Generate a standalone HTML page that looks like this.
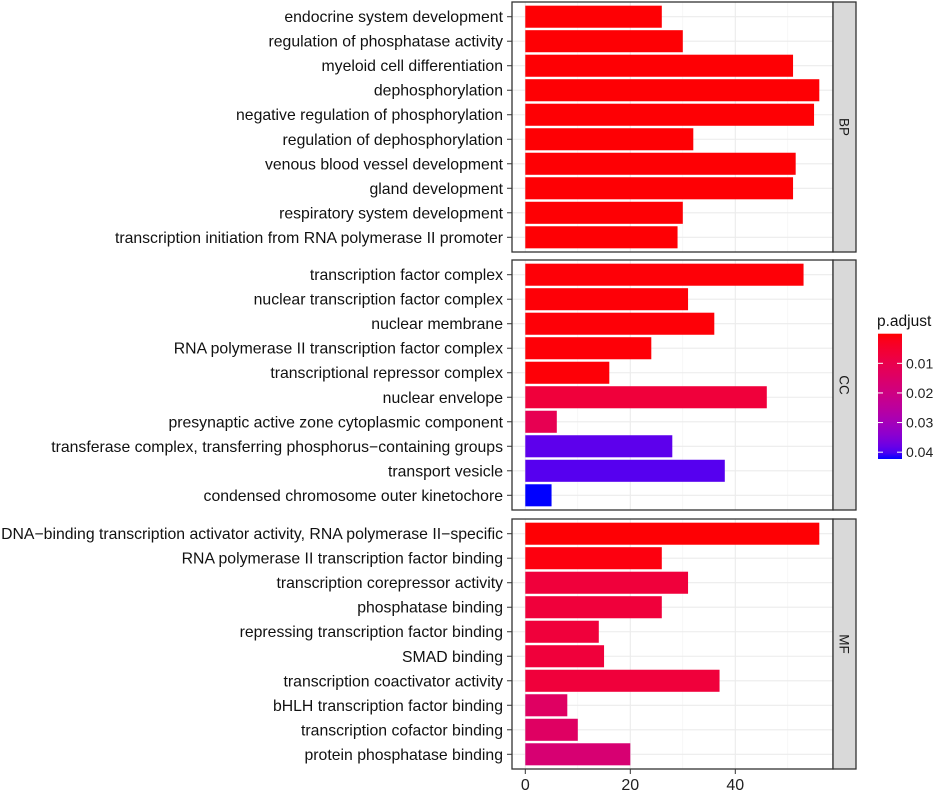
<!DOCTYPE html>
<html><head><meta charset="utf-8"><style>
html,body{margin:0;padding:0;background:#fff;}
svg{display:block;font-family:"Liberation Sans",Arial,sans-serif;}
</style></head><body>
<svg id="chart" width="933" height="791" viewBox="0 0 933 791" xmlns="http://www.w3.org/2000/svg"></svg>
<script>
const bpTerms = ["endocrine system development","regulation of phosphatase activity","myeloid cell differentiation","dephosphorylation","negative regulation of phosphorylation","regulation of dephosphorylation","venous blood vessel development","gland development","respiratory system development","transcription initiation from RNA polymerase II promoter"];
const bpCounts = [26,30,51,56,55,32,51.5,51,30,29];
const bpPadj = [0.0003,0.0003,0.0003,0.0003,0.0003,0.0003,0.0003,0.0003,0.0003,0.0003];
const ccTerms = ["transcription factor complex","nuclear transcription factor complex","nuclear membrane","RNA polymerase II transcription factor complex","transcriptional repressor complex","nuclear envelope","presynaptic active zone cytoplasmic component","transferase complex, transferring phosphorus\u2212containing groups","transport vesicle","condensed chromosome outer kinetochore"];
const ccCounts = [53,31,36,24,16,46,6,28,38,5];
const ccPadj = [0.0005,0.0005,0.0005,0.0005,0.0005,0.007,0.011,0.039,0.0395,0.0423];
const mfTerms = ["DNA\u2212binding transcription activator activity, RNA polymerase II\u2212specific","RNA polymerase II transcription factor binding","transcription corepressor activity","phosphatase binding","repressing transcription factor binding","SMAD binding","transcription coactivator activity","bHLH transcription factor binding","transcription cofactor binding","protein phosphatase binding"];
const mfCounts = [56,26,31,26,14,15,37,8,10,20];
const mfPadj = [0.0003,0.001,0.007,0.007,0.007,0.007,0.007,0.014,0.014,0.017];
const xTicks = [0,20,40];
const legendTicks = [0.01,0.02,0.03,0.04];
const panelNames = ["BP","CC","MF"];

const NS="http://www.w3.org/2000/svg";
const svg=document.getElementById('chart');
function mk(tag,attrs,parent){const e=document.createElementNS(NS,tag);for(const k in attrs)e.setAttribute(k,attrs[k]);(parent||svg).appendChild(e);return e;}
const X0=525.3, PX=5.25;
const xs=v=>X0+v*PX;
const pMin=0.0, pMax=0.0423;
function srgb2lin(c){c/=255;return c<=0.04045?c/12.92:Math.pow((c+0.055)/1.055,2.4);}
function lin2srgb(c){c=c<=0.0031308?12.92*c:1.055*Math.pow(c,1/2.4)-0.055;return Math.round(Math.max(0,Math.min(1,c))*255);}
function toLab(r,g,b){r=srgb2lin(r);g=srgb2lin(g);b=srgb2lin(b);let x=(r*0.4124+g*0.3576+b*0.1805)/0.95047,y=r*0.2126+g*0.7152+b*0.0722,z=(r*0.0193+g*0.1192+b*0.9505)/1.08883;const f=t=>t>0.008856?Math.cbrt(t):7.787*t+16/116;return [116*f(y)-16,500*(f(x)-f(y)),200*(f(y)-f(z))];}
function fromLab(L,a,bb){let fy=(L+16)/116,fx=fy+a/500,fz=fy-bb/200;const fi=t=>t*t*t>0.008856?t*t*t:(t-16/116)/7.787;let x=fi(fx)*0.95047,y=fi(fy),z=fi(fz)*1.08883;let r=x*3.2406-y*1.5372-z*0.4986,g=-x*0.9689+y*1.8758+z*0.0415,b=x*0.0557-y*0.2040+z*1.0570;return `rgb(${lin2srgb(r)},${lin2srgb(g)},${lin2srgb(b)})`;}
const LR=toLab(255,0,0), LB=toLab(0,0,255);
function col(p){let t=(p-pMin)/(pMax-pMin);t=Math.max(0,Math.min(1,t));return fromLab(LR[0]+(LB[0]-LR[0])*t,LR[1]+(LB[1]-LR[1])*t,LR[2]+(LB[2]-LR[2])*t);}

const panels=[{terms:bpTerms,counts:bpCounts,padj:bpPadj,top:2,bot:252},{terms:ccTerms,counts:ccCounts,padj:ccPadj,top:260,bot:510},{terms:mfTerms,counts:mfCounts,padj:mfPadj,top:519,bot:769}];
const PL=512, PR=833, SR=856;
panels.forEach((p,pi)=>{
  const g=mk('g',{});
  
  
  const n=p.terms.length, step=(p.bot-p.top)/(n-1+1.2);
  const ys=i=>p.top+step*(0.6+i);
  mk('rect',{x:PL,y:p.top,width:PR-PL,height:p.bot-p.top,fill:'#fff'},g);
  [10,30,50].forEach(v=>mk('line',{x1:xs(v),x2:xs(v),y1:p.top,y2:p.bot,stroke:'#F2F2F2','stroke-width':0.6},g));
  xTicks.forEach(v=>mk('line',{x1:xs(v),x2:xs(v),y1:p.top,y2:p.bot,stroke:'#EBEBEB','stroke-width':1.1},g));
  p.terms.forEach((t,i)=>mk('line',{x1:PL,x2:PR,y1:ys(i),y2:ys(i),stroke:'#EBEBEB','stroke-width':1.1},g));
  p.terms.forEach((t,i)=>{
    const y=ys(i),h=step*0.9;
    const b=mk('rect',{x:xs(0),y:y-h/2,width:xs(p.counts[i])-xs(0),height:h,fill:col(p.padj[i])},g);
    
    
    const lb=mk('text',{x:503,y:y+5.5,'text-anchor':'end','font-size':'15.8',fill:'#111'},g);
    lb.textContent=t;
    
    
    mk('line',{x1:507,x2:512,y1:y,y2:y,stroke:'#333','stroke-width':1},g);
  });
  mk('rect',{x:PL,y:p.top,width:PR-PL,height:p.bot-p.top,fill:'none',stroke:'#333','stroke-width':1.3},g);
  const s=mk('rect',{x:PR,y:p.top,width:SR-PR,height:p.bot-p.top,fill:'#D9D9D9',stroke:'#333','stroke-width':1.3},g);
  
  
  const cy=(p.top+p.bot)/2;
  const st=mk('text',{x:0,y:0,'font-size':'13.5',fill:'#1a1a1a','text-anchor':'middle',transform:`translate(${(PR+SR)/2-5},${cy}) rotate(90)`},g);
  st.textContent=panelNames[pi];
  
  
});
xTicks.forEach(v=>{
  mk('line',{x1:xs(v),x2:xs(v),y1:769,y2:774,stroke:'#333'});
  const t=mk('text',{x:xs(v),y:790,'text-anchor':'middle','font-size':'16',fill:'#222'});
  t.textContent=v;
  
  
});
const LT=333.7, LBt=459, LX=878, LW=24;
const defs=mk('defs',{});
const grad=mk('linearGradient',{id:'lg',x1:0,y1:0,x2:0,y2:1},defs);
for(let k=0;k<=20;k++){mk('stop',{offset:k/20,'stop-color':col(pMin+k/20*(pMax-pMin))},grad);}
const lg=mk('rect',{x:LX,y:LT,width:LW,height:LBt-LT,fill:'url(#lg)'});


const lt=mk('text',{x:877,y:326,'font-size':'15.5',fill:'#111'});
lt.textContent='p.adjust';


const ly=p=>LT+(p-pMin)/(pMax-pMin)*(LBt-LT);
legendTicks.forEach(p=>{
  mk('line',{x1:LX,x2:LX+5,y1:ly(p),y2:ly(p),stroke:'#fff'});
  mk('line',{x1:LX+LW-5,x2:LX+LW,y1:ly(p),y2:ly(p),stroke:'#fff'});
  const t=mk('text',{x:906,y:ly(p)+5,'font-size':'14',fill:'#222'});
  t.textContent=p.toFixed(2);
  
  
});
</script>
</body></html>
